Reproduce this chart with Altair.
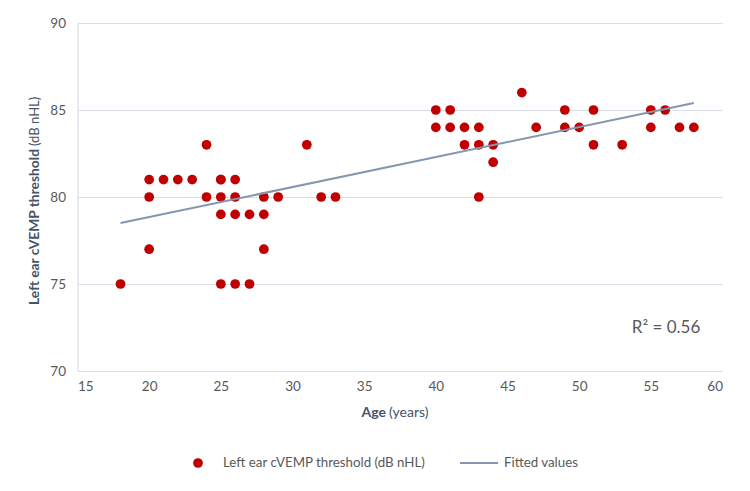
import altair as alt
import pandas as pd

# Data
ages = [18, 20, 20, 20, 21, 22, 23, 24, 24, 25, 25, 25, 25, 25, 26, 26, 26, 26,
        27, 27, 28, 28, 28, 29, 31, 32, 33,
        40, 40, 41, 41, 42, 42, 43, 43, 43, 44, 44, 46, 47, 49, 49, 50, 51, 51,
        53, 55, 55, 56, 57, 58]
thresholds = [75, 81, 80, 77, 81, 81, 81, 83, 80, 81, 81, 80, 79, 75, 81, 80, 79, 75,
              79, 75, 80, 79, 77, 80, 83, 80, 80,
              85, 84, 85, 84, 84, 83, 84, 83, 80, 83, 82, 86, 84, 85, 84, 84, 85, 83,
              83, 85, 84, 85, 84, 84]
fit_ages = [18, 58]
fit_values = [78.5, 85.4]
r2_label = "R² = 0.56"
x_ticks = [15, 20, 25, 30, 35, 40, 45, 50, 55, 60]
y_ticks = [70, 75, 80, 85, 90]

FONT = "Lato"
RED = "#C00000"
LINE = "#8497B0"
GRID = "#D9DEE8"
LABEL = "#595959"
TITLE = "#44546A"

W, H = 645, 348
OX, OY = 77.5, 23  # plot origin on the canvas

pts = pd.DataFrame({"age": ages, "thr": thresholds})
fit = pd.DataFrame({"age": fit_ages, "thr": fit_values})

xs = alt.Scale(domain=[15, 60], nice=False)
ys = alt.Scale(domain=[70, 90], nice=False)

x_axis = alt.Axis(values=x_ticks, grid=False, ticks=False, domain=True,
                  domainColor=GRID, domainWidth=1.2, labelColor=LABEL,
                  labelFont=FONT, labelFontSize=13.5, labelPadding=8, title=None)
y_axis = alt.Axis(values=y_ticks, grid=True, gridColor=GRID, gridWidth=1.2,
                  ticks=False, domain=True, domainColor=GRID, domainWidth=1.2,
                  labelColor=LABEL, labelFont=FONT, labelFontSize=13.5,
                  labelPadding=12, title=None)

points = alt.Chart(pts).mark_circle(size=95, opacity=1, color=RED).encode(
    x=alt.X("age:Q", scale=xs, axis=x_axis),
    y=alt.Y("thr:Q", scale=ys, axis=y_axis),
)

line = alt.Chart(fit).mark_line(color=LINE, strokeWidth=2).encode(
    x=alt.X("age:Q", scale=xs),
    y=alt.Y("thr:Q", scale=ys),
)

def txt(text, px, py, size=12, weight="normal", align="left", angle=0,
        color=TITLE, baseline="middle"):
    kw = dict(text=text, font=FONT, fontSize=size, fontWeight=weight,
              align=align, baseline=baseline, color=color)
    if angle:
        kw["angle"] = angle
    return alt.Chart(pd.DataFrame({"t": [text]})).mark_text(**kw).encode(
        x=alt.value(px - OX), y=alt.value(py - OY))

r2 = txt(r2_label, 666, 328, size=17, align="center", color=LABEL)

x_title = alt.layer(
    txt("Age", 386, 413, size=14, weight="bold", align="right"),
    txt("(years)", 389, 413, size=14, weight="normal", align="left"),
)
y_title = alt.layer(
    txt("Left ear cVEMP threshold", 35, 149, size=13.8, weight="bold",
        align="right", angle=270),
    txt("(dB nHL)", 35, 146, size=13, weight="normal", align="left", angle=270),
)

leg_dot = alt.Chart(pd.DataFrame({"k": [0]})).mark_circle(
    size=95, color=RED, opacity=1).encode(
    x=alt.value(198 - OX), y=alt.value(463 - OY))
leg_line = alt.Chart(pd.DataFrame({"k": [0]})).mark_rule(
    color=LINE, strokeWidth=2).encode(
    x=alt.value(460 - OX), x2=alt.value(498 - OX), y=alt.value(463 - OY))
leg_t1 = txt("Left ear cVEMP threshold (dB nHL)", 223, 463, size=13.3, color=LABEL)
leg_t2 = txt("Fitted values", 504, 463, size=13.3, color=LABEL)

chart = alt.layer(
    points, line, r2, x_title, y_title, leg_dot, leg_line, leg_t1, leg_t2
).properties(
    width=W, height=H,
    autosize=alt.AutoSizeParams(type="none"),
    padding={"left": OX, "top": OY, "right": 750 - OX - W, "bottom": 491 - OY - H},
    background="white",
).configure_view(stroke=None)

chart.save("out.html", embed_options={"renderer": "svg", "actions": False})
